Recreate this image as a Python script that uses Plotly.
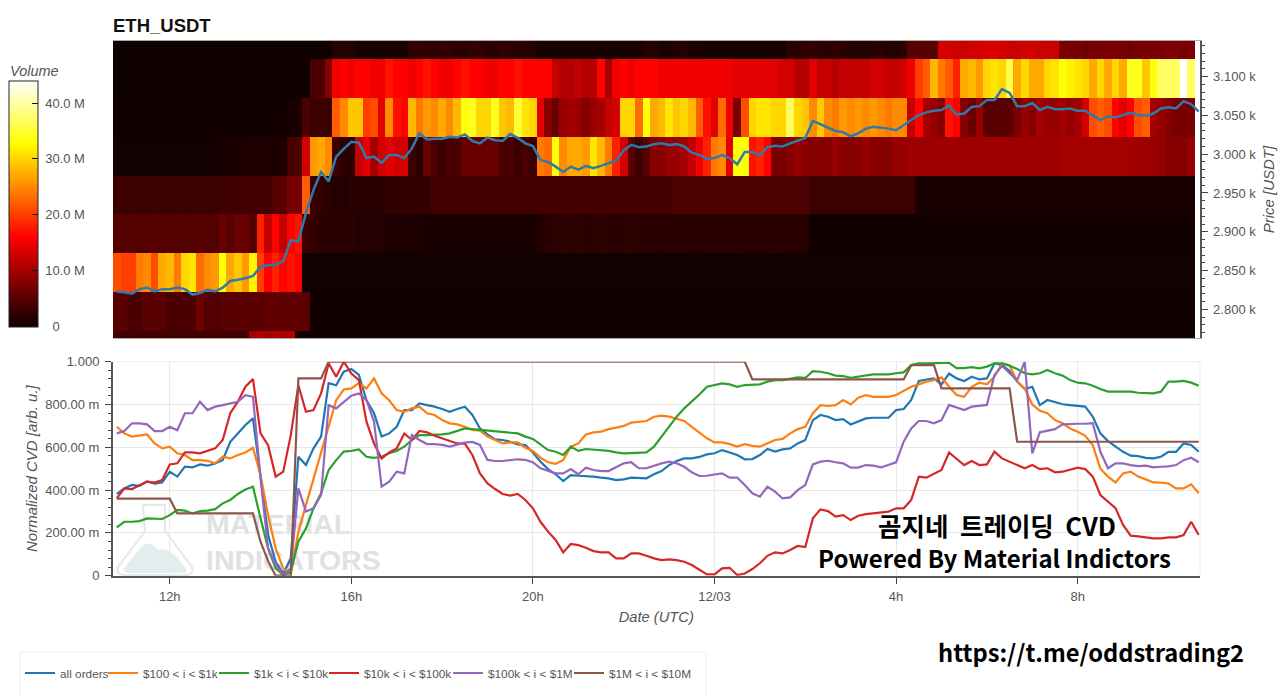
import pandas as pd
import plotly.graph_objects as go

W, H = 1280, 695
def px(x): return x / W
def py(y): return 1 - y / H

# ---------- time axis ----------
times = pd.date_range("2022-03-11 10:50", periods=144, freq="10min")
heat_times = times[:143]
price_bins = [2747.5, 2797.5, 2847.5, 2897.5, 2947.5, 2997.5, 3047.5, 3097.5, 3147.5]

# ---------- heatmap rows: volume in M, one value per 10-min column ----------
row_3147 = ([0.1]*29 + [1.5,1.5,1.5] + [0.6]*7 + [2.5,2.5,2.5]
    + [2,2.5,2.5,2,2,2.5,2.5,2,2,2.5,2,2,2,1.5] + [0.6]*14
    + [1.5,1.5,1,1,1.5,1.5,1,1] + [0.5]*11 + [2,2,2.5,2.5,2,2,2.5,2]
    + [1.5,1.5,1.5,2,2,1.5,1.5,2] + [5,5,5,5]
    + [13,13,12.5,12.5,13,13,13.5,13.5,13,12.5,12.5,13,13,12.5,12.5,12.5]
    + [7,7,7,6.5,7,7,7,7,7,6.5,7,7,7,7,7.5,7.5,7,7])
row_3097 = ([0.15]*26 + [4,4,8] + [15,16,15,16,16,15,15,17,16,16,15,16,17]
    + [16,15,15,16,17,16,16,15,15,16,16,17,16,16,16,16] + [12,11,11,12,11,11,16,10]
    + [15,16,15,16,16,16,15,15,15,15,15,15,15,15,15,15,14,14]
    + [14,14,14,14,13,13,11,11,14] + [12,12,11,12,12,12,12,13,13,12,12,13]
    + [15,20,22,28,24,22,18,27,28,26,30,31,30,36,27,30,27,27,30,31,33,32,31,30,27,30,27,30,27,34,34,29,33,37,37,37,44,37])
row_3047 = ([0.3]*23 + [0.8,1] + [4,3,3,3] + [22,25,29,29,20,21,14,25,17,16,28,24,26]
    + [25,27,25,28,33,34,30,30,34,29,28,35,31,30] + [14,8,6,9,10,9,8,9,10,12,13]
    + [30,30,23,33,27,28,31,29,30,28,22,17,14,23,15,7,21,30,31,31,30,30,37,30,29,25,29]
    + [25,24,26,25,26,25,26,25,24,25,25]
    + [12,16,10,9,8,17,16,8,6,9,5,5,5,5,7,9,8,10,9,9,10,9,10,13,21,22,21,16,14,16,21,22,10,9,8,7,7,7])
row_2997 = ([0.4]*14 + [0.6] + [1,1,1.1,1.2,1.2,1.1,1,1.2] + [4,4,13] + [26,27,25] + [3,2,2]
    + [12,14,10,13,14,13,13] + [3,2,6] + [4,3,4,4,6,6,6,6,6,4,4,3,4,3]
    + [24,23,33,25,27,27,26,31,28,24,18]
    + [13,5,3,5,8,8,9,9,10,12,15,18,24,25,14,33,33,17,18,16]
    + [7,7,8,9,8,8,8,8,9,8] + [8,8,9,8,8,8,9,9]
    + [9.5,9.5,9.5,9.5,9.5,9.5,9.5,9.5,9.5,9.5,9.5,9.5,9.5,9.5,9.5,9.5,9.5,9.5,9.5,9.5,
       10,10,10,10,10,10,10,10,10,10,9.5,9.5,9,9,8,8,8,9])
row_2947 = ([3.2,3,3.2,3,3,3.2,3,3,3.2,3,3,3.2,3,3,3.2] + [3.5,3.5,3.6,3.5,3.5,3.6] + [4.5,5,7,7,22]
    + [3,2.5,2,1.5,1.5,2,2,2,2,2,2.5,2.5,2.5,2.5,2.5,2.5] + [3.5]*32 + [4.2]*18 + [3]*14 + [0.7]*37)
row_2897 = ([4.8,4.5,4.8,4.5,4.8,4.8,4.5,4.8,4.5,4.8,4.5,4.8,4.5,4.5] + [6,5,6,6,4.5,18,12,16,12,16,17]
    + [3,2.5,2,2,2,2,2,1.5,1.5,1.5,1.5,1.2,1.2,1.2,1.2,1.2,1] + [0.7]*14
    + [1.5,2,2,2.2,2,2.2,2,2,2.2,2,2,2,2.2,2,2,2,1.8,2,2,2,1.8,1.8,2,2,2,2,2,1.8,1.8,1.8,1.8,2,2,1.8,1.8,1.8]
    + [0.3]*51)
row_2847 = ([21,20,20,24,25,21,27,28,24,30,31,23,25,26,33,27,29,26,32,20,16,18,16,17,16] + [0.4]*118)
row_2797 = ([5,5,4,4,5,5,5,4,4,4,4,6.5,4.5,4.5,5,5,5,5,5,5,5.5,5.5,5.5,5.5,5.5,5] + [0.3]*117)
row_2747 = ([3.5]*18 + [10,11,10,11,10,11] + [0.5,0.5] + [0.2]*117)
heat_rows = [row_2747, row_2797, row_2847, row_2897, row_2947, row_2997, row_3047, row_3097, row_3147]
assert all(len(r) == 143 for r in heat_rows), [len(r) for r in heat_rows]

# ---------- price line (USDT) ----------
price = [2823,2822,2820,2826,2828,2823,2826,2826,2828,2826,
 2819,2821,2825,2823,2828,2836.5,2838,2840,2843,2855,
 2857,2857,2862,2889,2888,2924,2954,2977,2965,2997,
 3007,3016,3015,2995,2997,2989,2999,2999,2995,3007.5,
 3027,3019,3020,3020,3022.5,3021.5,3025.5,3017,3014,3021.5,
 3018,3017,3026,3021,3014,3010.5,2992.5,2990,2984,2977,
 2984,2980,2985,2982,2985,2988,2992,3005,3012,3009,
 3010,3013,3014,3012,3013,3010,3002,2999,2994,2995,
 2999,2995,2987,3003,3003,2999,3009,3011,3010,3014,
 3018,3021,3043,3039,3035,3030,3028.5,3023,3027,3033,
 3035.5,3034.5,3033,3031,3037.5,3045,3050.5,3054,3056,3057,
 3063,3051,3052.5,3061,3062,3070,3070,3084,3079,3062,
 3062,3066,3057,3061,3058,3058,3059,3056,3056,3050,
 3044,3049,3047.5,3050.5,3053.5,3050.5,3049.5,3052.5,3059,3060.5,
 3059,3068.5,3064.5,3055]

# ---------- normalized CVD series ----------
cvd_all = [.382,.408,.424,.42,.44,.43,.436,.486,.463,.51,.506,.52,.514,.525,.54,.626,.665,.704,.735,.47,
 .19,.065,.01,.08,.556,.517,.595,.65,.9,.89,.953,.966,.938,.82,.759,.65,.665,.696,.774,.774,.805,.797,
 .79,.779,.766,.779,.79,.751,.688,.66,.637,.634,.626,.614,.611,.576,.533,.498,.474,.442,.47,.467,.466,.463,.458,.455,
 .447,.45,.458,.455,.455,.474,.489,.517,.536,.548,.548,.555,.567,.572,.587,.576,.564,.544,.545,.564,.592,.58,.59,.595,
 .618,.634,.727,.751,.743,.727,.732,.707,.72,
 .735,.738,.738,.738,.774,.779,.821,.91,.917,.922,.894,.945,.922,.91,.93,.917,.922,.992,.984,.957,.907,.872,.883,
 .797,.821,.81,.801,.797,.793,.79,.743,.665,.629,.606,.579,.561,.559,.551,.548,.556,.579,.579,.618,.611,.579]
cvd_100_1k = [.696,.665,.65,.654,.66,.618,.595,.603,.572,.564,.54,.54,.537,.525,.556,.548,.564,.576,.598,.47,
 .283,.128,.034,.01,.205,.33,.455,.58,.704,.82,.87,.875,.9,.875,.922,.852,.82,.774,.766,.782,.79,.759,
 .751,.727,.712,.707,.696,.681,.678,.65,.634,.618,.623,.623,.598,.583,.551,.53,.523,.54,.603,.618,.66,.67,.673,.685,
 .692,.7,.715,.72,.723,.743,.748,.743,.732,.723,.696,.67,.642,.623,.623,.615,.603,.615,.607,.603,.618,.634,.639,.665,
 .685,.696,.759,.797,.793,.797,.821,.8,.832,
 .844,.836,.836,.836,.844,.863,.883,.894,.907,.914,.927,.883,.844,.836,.883,.902,.894,.93,.992,.984,.907,.875,.8,
 .771,.759,.727,.712,.688,.673,.654,.61,.5,.463,.436,.478,.486,.463,.45,.436,.435,.431,.408,.408,.427,.385]
cvd_1k_10k = [.226,.252,.252,.255,.268,.268,.265,.283,.307,.304,.291,.302,.304,.311,.338,.354,.382,.403,.416,.268,
 .128,.034,.003,.019,.159,.221,.315,.385,.494,.54,.58,.583,.59,.556,.551,.556,.572,.583,.603,.634,.657,.657,
 .657,.66,.665,.676,.688,.685,.681,.679,.676,.67,.668,.665,.65,.639,.614,.587,.579,.564,.603,.583,.592,.589,.586,.583,
 .576,.572,.573,.575,.576,.603,.65,.696,.743,.782,.813,.847,.883,.891,.899,.894,.883,.891,.894,.894,.907,.914,.914,.922,
 .927,.924,.956,.953,.946,.935,.933,.925,.93,
 .938,.941,.941,.941,.946,.95,.984,.992,.992,.992,.992,.995,.97,.97,.975,.969,.977,.992,.992,.981,.966,.946,.941,
 .946,.961,.946,.935,.914,.902,.899,.888,.872,.86,.86,.858,.86,.855,.854,.852,.86,.907,.907,.91,.902,.888]
cvd_10k_100k = [.361,.408,.405,.424,.44,.435,.447,.52,.525,.576,.576,.572,.583,.595,.634,.759,.813,.883,.919,.665,
 .61,.463,.486,.657,.89,.766,.774,.852,.992,.93,1.0,.945,.914,.72,.618,.548,.576,.595,.665,.634,.676,.67,
 .654,.642,.629,.618,.617,.564,.478,.431,.405,.382,.374,.382,.354,.315,.252,.206,.167,.109,.148,.143,.131,.115,.109,.109,
 .081,.081,.104,.104,.093,.081,.073,.076,.073,.065,.05,.026,.006,.006,.034,.037,.003,.01,.031,.058,.093,.109,.104,.12,
 .139,.134,.268,.31,.302,.276,.283,.26,.28,
 .288,.291,.294,.299,.315,.315,.354,.463,.458,.478,.494,.576,.548,.517,.536,.517,.52,.579,.548,.533,.517,.502,.517,
 .498,.502,.483,.486,.494,.505,.498,.463,.377,.346,.315,.237,.187,.184,.178,.174,.174,.179,.179,.19,.252,.19]
cvd_100k_1m = [.665,.676,.712,.712,.707,.676,.676,.696,.68,.759,.759,.813,.774,.79,.797,.805,.813,.844,.836,.455,
 .128,.05,.003,.034,.408,.3,.315,.377,.797,.782,.813,.841,.852,.82,.72,.416,.439,.486,.478,.657,.634,.615,
 .615,.611,.603,.614,.622,.625,.611,.541,.536,.536,.539,.544,.541,.53,.502,.489,.478,.478,.498,.474,.505,.494,.489,.489,
 .508,.525,.53,.502,.502,.514,.525,.533,.525,.509,.483,.466,.467,.473,.478,.458,.458,.424,.385,.369,.416,.393,.361,.366,
 .4,.424,.52,.533,.537,.53,.525,.505,.505,
 .517,.514,.506,.517,.53,.626,.688,.723,.723,.712,.727,.798,.785,.774,.79,.794,.798,.938,.981,.946,.914,1.0,.572,
 .67,.676,.685,.707,.71,.71,.71,.713,.579,.502,.525,.525,.517,.512,.514,.506,.509,.511,.517,.54,.551,.53]
cvd_1m_10m = ([.36]*8 + [.291]*11 + [.159,.068,0,0,0] + [.922]*4 + [1.0]*56 + [.917]*21
    + [.984]*4 + [.875]*10 + [.626]*25)

series = [("all orders", cvd_all, "#1f77b4"),
          ("$100 &lt; i &lt; $1k", cvd_100_1k, "#ff7f0e"),
          ("$1k &lt; i &lt; $10k", cvd_1k_10k, "#2ca02c"),
          ("$10k &lt; i &lt; $100k", cvd_10k_100k, "#d62728"),
          ("$100k &lt; i &lt; $1M", cvd_100k_1m, "#9467bd"),
          ("$1M &lt; i &lt; $10M", cvd_1m_10m, "#8c564b")]
assert len(price) == 144 and all(len(s[1]) == 144 for s in series), [len(price)] + [len(s[1]) for s in series]

x_tick_vals = ["2022-03-11 12:00", "2022-03-11 16:00", "2022-03-11 20:00",
               "2022-03-12 00:00", "2022-03-12 04:00", "2022-03-12 08:00"]
x_tick_text = ["12h", "16h", "20h", "12/03", "4h", "8h"]
price_ticks = [2800, 2850, 2900, 2950, 3000, 3050, 3100]
price_text = ["2.800 k", "2.850 k", "2.900 k", "2.950 k", "3.000 k", "3.050 k", "3.100 k"]
cvd_ticks = [0, .2, .4, .6, .8, 1.0]
cvd_text = ["0", "200.00 m", "400.00 m", "600.00 m", "800.00 m", "1.000"]
vol_ticks = [0, 10, 20, 30, 40]
vol_text = ["\u00a0\u00a0\u00a00", "\u00a010.0 M", "\u00a020.0 M", "\u00a030.0 M", "\u00a040.0 M"]

FONT = "Liberation Sans, Arial, sans-serif"
CJK = "Noto Sans CJK KR, Noto Sans, sans-serif"
GREY = "#555"
x_range = ["2022-03-11 10:45", "2022-03-12 10:41"]

fig = go.Figure()
fig.add_trace(go.Heatmap(
    x=heat_times, y=price_bins, z=heat_rows, zmin=-0.2, zmax=43.9, zsmooth=False,
    colorscale=[[0, "#0a0000"], [0.365, "#ff0000"], [0.746, "#ffff00"], [1, "#ffffff"]],
    xaxis="x", yaxis="y", showscale=True, hoverinfo="skip",
    colorbar=dict(xref="container", yref="container", x=px(9), xanchor="left",
                  y=py(327.3), yanchor="bottom", len=245.6/H, lenmode="fraction",
                  thickness=29, thicknessmode="pixels", outlinecolor="#222", outlinewidth=1, xpad=0, ypad=0,
                  tickmode="array", tickvals=vol_ticks, ticktext=vol_text, ticks="inside", ticklen=6,
                  tickcolor="#111", tickfont=dict(family=FONT, size=13, color=GREY))))
fig.add_trace(go.Scatter(x=times, y=price, mode="lines", line=dict(color="#2f79ab", width=2.5),
                         xaxis="x", yaxis="y", showlegend=False, hoverinfo="skip"))

legend_x = [20, 103, 214, 324, 448, 569]
layout_legends = {}
for i, (name, vals, col) in enumerate(series):
    key = "legend" if i == 0 else f"legend{i+1}"
    fig.add_trace(go.Scatter(x=times, y=vals, mode="lines", name=name, line=dict(color=col, width=2.2),
                             xaxis="x2", yaxis="y2", legend=key, showlegend=True))
    layout_legends[key] = dict(x=px(legend_x[i]), xanchor="left", y=py(673), yanchor="middle",
                               orientation="h", bgcolor="rgba(0,0,0,0)", borderwidth=0,
                               font=dict(family=FONT, size=11.8, color=GREY))

# decorative watermark, legend box and panel frame, in page pixels
flask = (f"M {px(143)},{py(505)} L {px(165)},{py(505)} L {px(165)},{py(531)} L {px(192)},{py(567)} "
         f"Q {px(194)},{py(575)} {px(186)},{py(575)} L {px(124)},{py(575)} Q {px(116)},{py(575)} {px(118)},{py(567)} "
         f"L {px(145)},{py(531)} Z")
flask_fill = (f"M {px(123)},{py(570)} L {px(140)},{py(548)} Q {px(150)},{py(538)} {px(158)},{py(550)} "
              f"Q {px(170)},{py(545)} {px(187)},{py(570)} Q {px(187)},{py(573)} {px(183)},{py(573)} L {px(127)},{py(573)} Z")
WM = "Liberation Sans, Arial, sans-serif"
shapes = [
    dict(type="rect", xref="paper", yref="paper", x0=px(20), x1=px(706), y0=py(700), y1=py(652),
         line=dict(color="#eeeeee", width=1), layer="below"),
    dict(type="path", xref="paper", yref="paper", path=flask_fill, fillcolor="#e4edee", line=dict(width=0), layer="below"),
    dict(type="path", xref="paper", yref="paper", path=flask, line=dict(color="#e6e8e8", width=2), layer="below"),
    dict(type="rect", xref="paper", yref="paper", x0=px(203), x1=px(360), y0=py(535), y1=py(508), line=dict(width=0),
         layer="below", label=dict(text="<b>MATERIAL</b>", textposition="middle left", padding=0,
                                   font=dict(family=WM, size=28.5, color="#dfe1e2"))),
    dict(type="rect", xref="paper", yref="paper", x0=px(203), x1=px(380), y0=py(571), y1=py(544), line=dict(width=0),
         layer="below", label=dict(text="<b>INDICATORS</b>", textposition="middle left", padding=0,
                                   font=dict(family=WM, size=28.5, color="#dfe1e2"))),
    dict(type="line", xref="paper", yref="paper", x0=px(113), x1=px(1200), y0=py(361.7), y1=py(361.7),
         line=dict(color="#eeeeee", width=1), layer="below"),
    dict(type="line", xref="paper", yref="paper", x0=px(1200), x1=px(1200), y0=py(361.7), y1=py(575.7),
         line=dict(color="#eeeeee", width=1), layer="below"),
]

annots = [
    dict(text="<b>ETH_USDT</b>", x=px(111), y=py(25), xanchor="left", yanchor="middle",
         font=dict(family=FONT, size=18.5, color="#111")),
    dict(text="<i>Volume</i>", x=px(8), y=py(70.5), xanchor="left", yanchor="middle",
         font=dict(family=FONT, size=14.5, color=GREY)),
    dict(text="<i>Normalized CVD [arb. u.]</i>", x=px(31), y=py(468), xanchor="center", yanchor="middle", textangle=-90,
         font=dict(family=FONT, size=15, color=GREY)),
    dict(text="<b>곰지네\u00a0\u00a0트레이딩\u00a0\u00a0CVD</b>", x=px(997), y=py(524), xanchor="center", yanchor="middle",
         font=dict(family=CJK, size=25.5, color="#000")),
    dict(text="<b>Powered By Material Indictors</b>", x=px(994.5), y=py(557), xanchor="center", yanchor="middle",
         font=dict(family=CJK, size=24, color="#000")),
    dict(text="<b>https://t.me/oddstrading2</b>", x=px(1090.5), y=py(652), xanchor="center", yanchor="middle",
         font=dict(family=CJK, size=23.7, color="#000")),
]
for a in annots:
    a.update(xref="paper", yref="paper", showarrow=False)

fig.update_layout(
    width=W, height=H, margin=dict(l=0, r=0, t=0, b=0, autoexpand=False), paper_bgcolor="white", plot_bgcolor="white",
    font=dict(family=FONT, color=GREY), shapes=shapes, annotations=annots, hovermode=False,
    xaxis=dict(domain=[px(113), px(1199.5)], range=x_range, type="date", anchor="y", showticklabels=False,
               ticks="", showgrid=False, zeroline=False, showline=True, mirror=True, linecolor="#aaaaaa", linewidth=1),
    yaxis=dict(domain=[py(338), py(41)], range=[2763, 3146], anchor="x", side="right",
               tickmode="array", tickvals=price_ticks, ticktext=price_text, ticks="outside", ticklen=6,
               tickcolor="#444", ticklabelstandoff=3, showgrid=False, zeroline=False,
               showline=True, linecolor="#555", linewidth=2, tickfont=dict(family=FONT, size=13, color=GREY),
               minor=dict(tickmode="array", tickvals=list(range(2770, 3146, 10)), ticks="outside", ticklen=3, tickcolor="#444"),
               title=dict(text="<i>Price [USDT]</i>", font=dict(family=FONT, size=15, color=GREY), standoff=8)),
    xaxis2=dict(domain=[px(113), px(1199.5)], range=x_range, type="date", anchor="y2",
                tickmode="array", tickvals=x_tick_vals, ticktext=x_tick_text, ticks="outside", ticklen=6,
                tickcolor="#444", ticklabelstandoff=2, showgrid=True, gridcolor="#e8e8e8", gridwidth=1, zeroline=False,
                showline=True, linecolor="#555", linewidth=2, tickfont=dict(family=FONT, size=13, color=GREY),
                title=dict(text="<i>Date (UTC)</i>", font=dict(family=FONT, size=14.7, color=GREY), standoff=8)),
    yaxis2=dict(domain=[py(575.7), py(361.7)], range=[0, 1], anchor="x2",
                tickmode="array", tickvals=cvd_ticks, ticktext=cvd_text, ticks="outside", ticklen=6,
                tickcolor="#444", ticklabelstandoff=3, showgrid=True, gridcolor="#e8e8e8", gridwidth=1, zeroline=False,
                showline=True, linecolor="#555", linewidth=2, tickfont=dict(family=FONT, size=13, color=GREY),
                minor=dict(tickmode="array", tickvals=[i/25 for i in range(26) if i % 5], ticks="outside", ticklen=3, tickcolor="#444")),
    **layout_legends,
)

fig.write_html("out.html", config=dict(displayModeBar=False),
               post_script="document.body.style.margin='0';document.body.style.overflow='hidden';")
